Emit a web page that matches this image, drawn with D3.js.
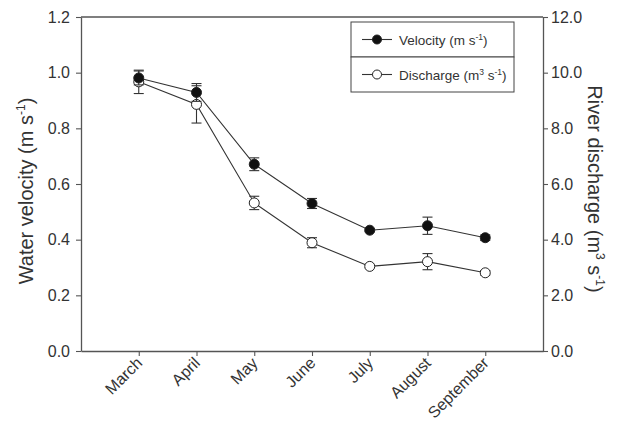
<!DOCTYPE html>
<html><head><meta charset="utf-8">
<script src="https://cdn.jsdelivr.net/npm/d3@7"></script>
<style>body{margin:0;background:#fff}svg{display:block;font-family:"Liberation Sans",Arial,sans-serif}</style>
</head><body><svg id="c" width="622" height="421"></svg>
<script>
const months = ["March","April","May","June","July","August","September"];
const velocity = [0.981, 0.929, 0.671, 0.530, 0.434, 0.450, 0.407];
const velocityErr = [0.025, 0.032, 0.023, 0.018, 0.005, 0.031, 0.010];
const discharge = [9.67, 8.86, 5.32, 3.89, 3.04, 3.21, 2.81];
const dischargeErr = [0.42, 0.67, 0.24, 0.18, 0.05, 0.29, 0.08];
const leftTicks = [0,0.2,0.4,0.6,0.8,1.0,1.2];
const rightTicks = [0,2,4,6,8,10,12];

const svg = d3.select("#c");
const L=81, R=543, T=17, B=351;
const x = d3.scaleLinear().domain([0, months.length+1]).range([L,R]);
const yL = d3.scaleLinear().domain([0,1.2]).range([B,T]);
const yR = d3.scaleLinear().domain([0,12]).range([B,T]);
const axisCol = "#555", lineCol="#333", txt="#333";

svg.append("line").attr("x1",L).attr("x2",R).attr("y1",T).attr("y2",T).attr("stroke",axisCol).attr("stroke-width",1.3);

const gL = svg.append("g").attr("transform",`translate(${L},0)`)
  .call(d3.axisLeft(yL).tickValues(leftTicks).tickFormat(d3.format(".1f")).tickSize(5).tickSizeOuter(0));
const gR = svg.append("g").attr("transform",`translate(${R},0)`)
  .call(d3.axisRight(yR).tickValues(rightTicks).tickFormat(d3.format(".1f")).tickSize(5).tickSizeOuter(0));
const gB = svg.append("g").attr("transform",`translate(0,${B})`)
  .call(d3.axisBottom(x).tickValues(months.map((m,i)=>i+1)).tickFormat((d)=>months[d-1]).tickSize(5).tickSizeOuter(0));
[gL,gR,gB].forEach(g=>{
  g.attr("font-family",null).attr("font-size",null);
  g.selectAll(".domain").attr("stroke",axisCol).attr("stroke-width",1.3);
  g.selectAll(".tick line").attr("stroke",axisCol).attr("stroke-width",1.1);
  g.selectAll("text").attr("fill",txt).style("font-size","16px");
});
gL.selectAll("text").attr("x",-11);
gR.selectAll("text").attr("x",8);
gB.selectAll("text").attr("text-anchor","end").attr("dy",null).attr("y",null)
  .attr("transform","translate(4,13) rotate(-45)");

const t1 = svg.append("text").attr("transform",`translate(33,${(T+B)/2+7}) rotate(-90)`)
  .attr("text-anchor","middle").attr("fill",txt).style("font-size","20px");
t1.append("tspan").text("Water velocity (m s");
t1.append("tspan").text("-1").style("font-size","12px").attr("dy",-8);
t1.append("tspan").text(")").attr("dy",8);

const t2 = svg.append("text").attr("transform",`translate(588,${(T+B)/2+5}) rotate(90)`)
  .attr("text-anchor","middle").attr("fill",txt).style("font-size","20px");
t2.append("tspan").text("River discharge (m");
t2.append("tspan").text("3").style("font-size","12px").attr("dy",-8);
t2.append("tspan").text(" s").attr("dy",8);
t2.append("tspan").text("-1").style("font-size","12px").attr("dy",-8);
t2.append("tspan").text(")").attr("dy",8);

function drawSeries(vals, errs, y, fill){
  const g = svg.append("g");
  g.append("path").datum(vals).attr("fill","none").attr("stroke",lineCol).attr("stroke-width",1.1)
    .attr("d", d3.line().x((d,i)=>x(i+1)).y(d=>y(d)));
  vals.forEach((v,i)=>{
    const cx=x(i+1), y1=y(v+errs[i]), y2=y(v-errs[i]);
    g.append("line").attr("x1",cx).attr("x2",cx).attr("y1",y1).attr("y2",y2).attr("stroke",lineCol).attr("stroke-width",1.1);
    [y1,y2].forEach(yy=>g.append("line").attr("x1",cx-5).attr("x2",cx+5).attr("y1",yy).attr("y2",yy).attr("stroke",lineCol).attr("stroke-width",1.1));
  });
  g.selectAll("circle").data(vals).join("circle").attr("cx",(d,i)=>x(i+1)).attr("cy",d=>y(d))
    .attr("r",5).attr("fill",fill).attr("stroke","#222").attr("stroke-width",1);
}
drawSeries(discharge, dischargeErr, yR, "#fff");
drawSeries(velocity, velocityErr, yL, "#111");

const lg = svg.append("g");
const lx=351, lw=163, rows=[[22,57],[57,92]];
const legendItems = [
  {fill:"#111", parts:[["Velocity (m s",0],["-1",1],[")",0]]},
  {fill:"#fff", parts:[["Discharge (m",0],["3",1],[" s",0],["-1",1],[")",0]]}
];
legendItems.forEach((it,i)=>{
  const [a,b]=rows[i], cy=(a+b)/2;
  lg.append("rect").attr("x",lx).attr("y",a).attr("width",lw).attr("height",b-a).attr("fill","#fff").attr("stroke","#444").attr("stroke-width",1);
  lg.append("line").attr("x1",362).attr("x2",392).attr("y1",cy).attr("y2",cy).attr("stroke",lineCol).attr("stroke-width",1.1);
  lg.append("circle").attr("cx",377).attr("cy",cy).attr("r",4.5).attr("fill",it.fill).attr("stroke","#222");
  const t = lg.append("text").attr("x",399).attr("y",cy+5).attr("fill",txt).style("font-size","13.5px");
  let sup=false;
  it.parts.forEach(([s,p])=>{
    const ts=t.append("tspan").text(s);
    if(p){ts.style("font-size","8.5px").attr("dy",-5);sup=true;}
    else if(sup){ts.attr("dy",5);sup=false;}
  });
});
</script></body></html>
